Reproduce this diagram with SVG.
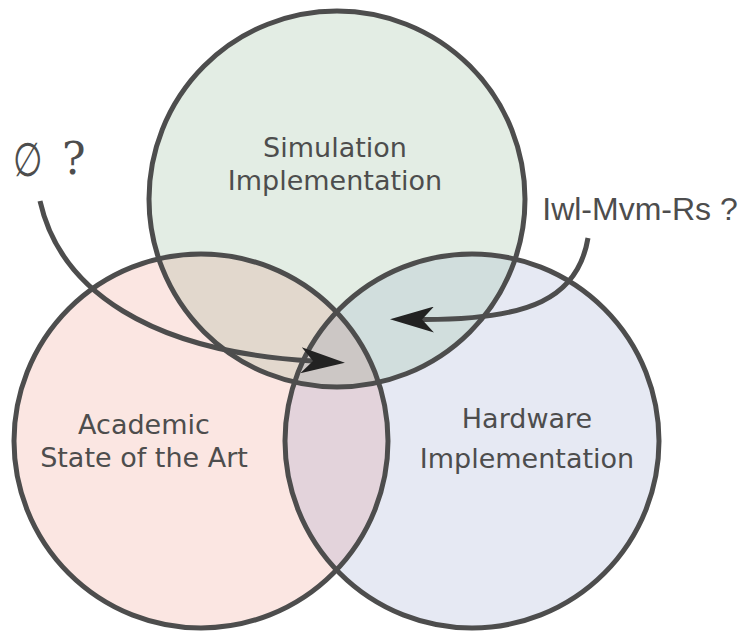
<svg xmlns="http://www.w3.org/2000/svg" width="748" height="632" viewBox="0 0 748 632">
<style>
.ring{fill:none;stroke:#4d4d4d;stroke-width:5}
.lbl{font-family:"DejaVu Sans",sans-serif;font-size:27px;fill:#4d4d4d;text-anchor:middle}
.conn{fill:none;stroke:#4d4d4d;stroke-width:5;marker-end:url(#stealth)}
.serif{font-family:"DejaVu Serif",serif;fill:#4d4d4d}
</style>
<defs>
<clipPath id="cT"><circle cx="337" cy="199" r="188"/></clipPath>
<clipPath id="cL"><circle cx="201" cy="441" r="187"/></clipPath>
<clipPath id="cR"><circle cx="472" cy="441" r="187"/></clipPath>
<marker id="stealth" markerUnits="userSpaceOnUse" viewBox="0 0 44 26" refX="12" refY="13" markerWidth="44" markerHeight="26" orient="auto">
<path d="M0,0 L44,13 L0,26 L12,13 Z" fill="#222"/>
</marker>
</defs>
<g id="fills">
<circle cx="337" cy="199" r="188" fill="#e3ede4"/>
<circle cx="201" cy="441" r="187" fill="#fbe6e2"/>
<circle cx="472" cy="441" r="187" fill="#e6e9f3"/>
<circle cx="201" cy="441" r="187" fill="#e2d8cd" clip-path="url(#cT)"/>
<circle cx="472" cy="441" r="187" fill="#d1dedd" clip-path="url(#cT)"/>
<circle cx="472" cy="441" r="187" fill="#e3d3db" clip-path="url(#cL)"/>
<g clip-path="url(#cL)"><circle cx="472" cy="441" r="187" fill="#ccc7c5" clip-path="url(#cT)"/></g>
</g>
<g id="simulation">
<circle class="ring" cx="337" cy="199" r="188"/>
<text class="lbl" x="335" y="157">Simulation</text>
<text class="lbl" x="335" y="190">Implementation</text>
</g>
<g id="academic">
<circle class="ring" cx="201" cy="441" r="187"/>
<text class="lbl" x="144" y="434">Academic</text>
<text class="lbl" x="144" y="467">State of the Art</text>
</g>
<g id="hardware">
<circle class="ring" cx="472" cy="441" r="187"/>
<text class="lbl" x="527" y="428">Hardware</text>
<text class="lbl" x="527" y="468">Implementation</text>
</g>
<g id="connectors">
<path class="conn" d="M40,201 C60,290 150,352 313,361"/>
<path class="conn" d="M588,238 C578,298 530,320 422,319.5"/>
</g>
<g id="label-emptyset">
<text class="serif" transform="translate(13,176) scale(0.85,1.18)" font-size="40">∅</text>
<text class="serif" x="62" y="174" font-size="44">?</text>
</g>
<g id="label-iwl">
<text x="640" y="220" font-family="Liberation Sans, Arial, sans-serif" font-size="32" fill="#4d4d4d" text-anchor="middle">Iwl-Mvm-Rs ?</text>
</g>
</svg>
